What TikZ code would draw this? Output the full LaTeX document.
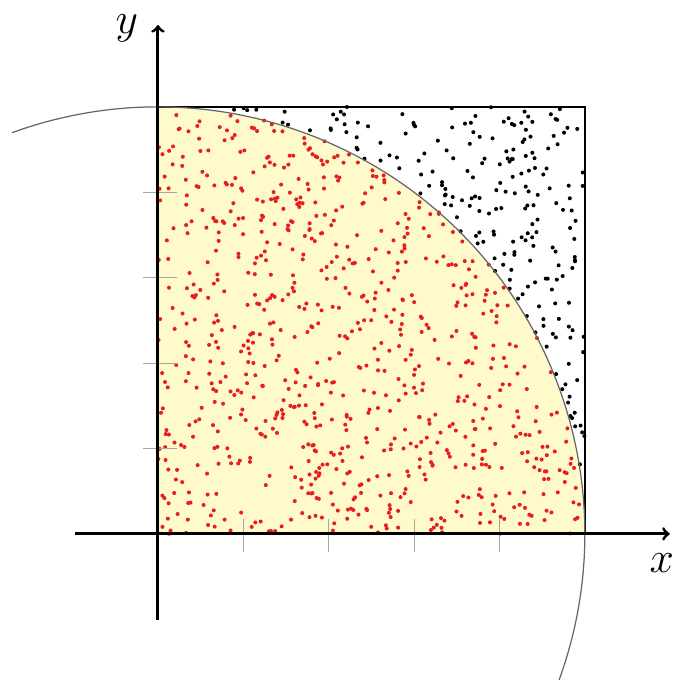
\documentclass[tikz,border=0pt]{standalone}
\usepackage{amsmath}
\usepackage{tikz}
\usetikzlibrary{arrows, positioning}
\definecolor{quarterfill}{RGB}{255,250,204}
\definecolor{hitred}{RGB}{232,30,30}

\begin{document}
\begin{tikzpicture}[x=8.54cm, y=8.54cm,
    axis/.style={line width=1.7pt,->,>=to},
    tick/.style={gray!70, line width=0.6pt},
    circ/.style={gray!80!black, line width=0.7pt},
    box/.style={black, line width=0.9pt},
    lbl/.style={font=\fontsize{26}{30}\selectfont}]
    \useasboundingbox (-0.370,-0.3466) rectangle (1.265,1.2506);
    \fill [quarterfill] (0,0) -- (1,0) arc (0:90:1) -- cycle;
    \pgfmathsetseed{2718}
    \foreach \i in {1,...,1000}{
        \pgfmathsetmacro{\px}{rnd}
        \pgfmathsetmacro{\py}{rnd}
        \pgfmathsetmacro{\rr}{\px*\px+\py*\py}
        \ifdim\rr pt<1pt
            \fill [hitred] (\px,\py) circle (1.15pt);
        \else
            \fill [black] (\px,\py) circle (1.15pt);
        \fi
    }
    \draw [box] (0,1) -- (1,1) -- (1,0);
    \draw [circ] (110:1) arc (110:-20:1);
    \foreach \t in {0.2,0.4,0.6,0.8}{
        \draw [tick] (\t,0.035) -- (\t,-0.042);
        \draw [tick] (-0.035,\t) -- (0.044,\t);
    }
    \coordinate (xs) at (-0.194,0);
    \coordinate (xe) at (1.199,0);
    \coordinate (ys) at (0,-0.201);
    \coordinate (ye) at (0,1.192);
    \draw [axis] (xs) -- (xe);
    \draw [axis] (ys) -- (ye);
    \node [lbl] (xlbl) at (1.180,-0.068) {$x$};
    \node [lbl] (ylbl) at (-0.073,1.185) {$y$};
\end{tikzpicture}
\end{document}
